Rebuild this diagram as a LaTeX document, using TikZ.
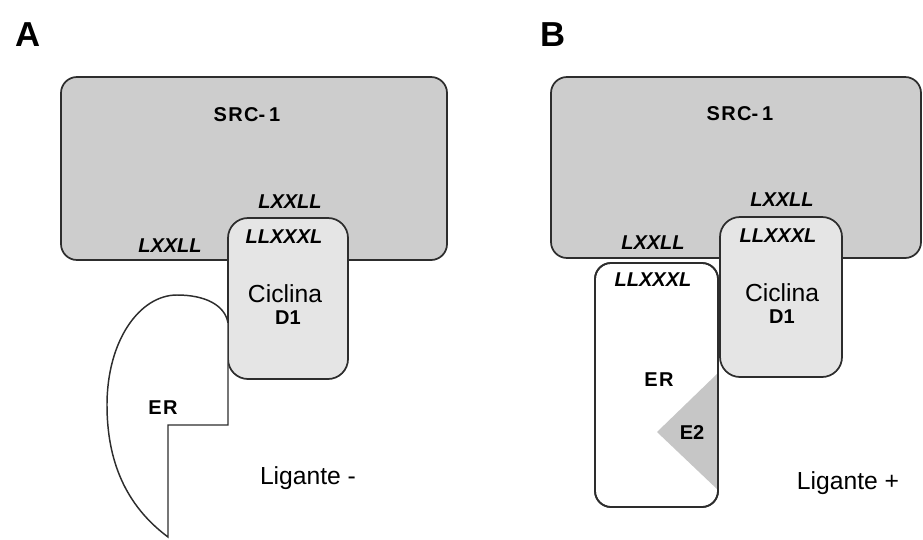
\documentclass[tikz,border=0pt]{standalone}
\usepackage{fontspec}
\setmainfont{Liberation Sans}
\definecolor{srcgray}{RGB}{205,205,205}
\definecolor{cycgray}{RGB}{229,229,229}
\definecolor{e2gray}{RGB}{198,198,198}
\definecolor{edgegray}{RGB}{45,45,45}
\begin{document}
\begin{tikzpicture}[x=0.75pt,y=-0.75pt,
    box/.style={draw=edgegray, line width=1.3pt, rounded corners=12pt},
    panel/.style={font=\bfseries\fontsize{26}{28}\selectfont},
    motif/.style={font=\bfseries\itshape\fontsize{15}{17}\selectfont},
    lbl/.style={font=\bfseries\fontsize{15}{17}\selectfont},
    big/.style={font=\fontsize{18.5}{20}\selectfont}]
  \useasboundingbox (0,0) rectangle (923,539);

  % Panel A
  \node[panel] (labA) at (28,35) {A};
  \draw[box, fill=srcgray] (61,77) rectangle (447,260);
  \node[lbl] (srcA) at (247,115) {S\kern1pt R\kern1pt C-\kern3pt 1};
  \node[motif] (lxxllAup) at (290,202) {LXXLL};
  \node[motif] (lxxllAleft) at (170,246) {LXXLL};

  % Ciclina D1 (A)
  \draw[box, rounded corners=15pt, fill=cycgray] (228,218) rectangle (348,379);
  \node[motif] (llxxxlA) at (284,237) {LLXXXL};
  \node[big] (cycA) at (285,294) {Ciclina};
  \node[lbl] (dA) at (288,318) {D1};

  % ER without ligand
  \draw[edgegray, line width=1.1pt, fill=white] (228,323) -- (228,425) -- (168,425) -- (168,537)
    .. controls (125,505) and (107,460) .. (107,405)
    .. controls (107,340) and (140,295) .. (177,295)
    .. controls (205,295) and (225,305) .. (228,323);
  \node[lbl] (erA) at (163,408) {E\kern1pt R};
  \node[big] (ligA) at (308,478) {Ligante -};

  % Panel B
  \node[panel] (labB) at (553,35) {B};
  \draw[box, fill=srcgray] (551,77) rectangle (921,258);
  \node[lbl] (srcB) at (740,114) {S\kern1pt R\kern1pt C-\kern3pt 1};
  \node[motif] (lxxllBup) at (782,200) {LXXLL};
  \node[motif] (lxxllBleft) at (653,243) {LXXLL};

  % ER with E2
  \draw[box, fill=white] (595,263) rectangle (718,507);
  \fill[e2gray] (718,373) -- (657,432) -- (718,490) -- cycle;
  \draw[box] (595,263) rectangle (718,507);
  \node[motif] (llxxxlBer) at (653,280) {LLXXXL};
  \node[lbl] (erB) at (659,380) {E\kern1pt R};
  \node[lbl] (e2) at (692,433) {E2};

  % Ciclina D1 (B)
  \draw[box, rounded corners=15pt, fill=cycgray] (720,217) rectangle (842,377);
  \node[motif] (llxxxlB) at (778,236) {LLXXXL};
  \node[big] (cycB) at (782,293) {Ciclina};
  \node[lbl] (dB) at (782,317) {D1};
  \node[big] (ligB) at (848,483) {Ligante +};
\end{tikzpicture}
\end{document}
